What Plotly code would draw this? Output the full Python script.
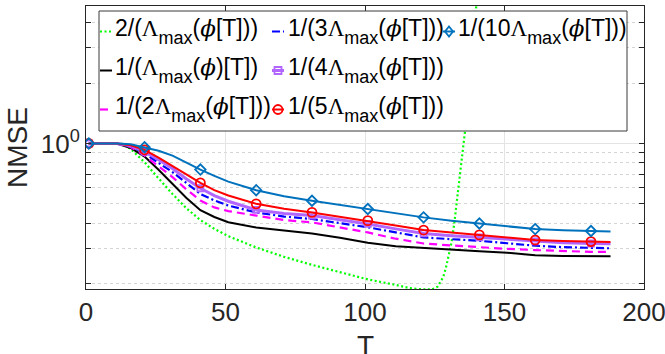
import math
import plotly.graph_objects as go

# Sample instants (T) shared by the six step-size curves
T = [1, 6, 11, 16, 21, 26, 31, 36, 41, 46, 51, 61, 71, 81, 91,
     101, 111, 121, 131, 141, 151, 161, 171, 181, 188]

nmse_lam1 = [1.0, 1.0, 1.0, 0.95, 0.86, 0.74, 0.63, 0.535, 0.465, 0.43, 0.405,
             0.381, 0.368, 0.356, 0.339, 0.32, 0.307, 0.302, 0.297, 0.29,
             0.285, 0.277, 0.275, 0.274, 0.274]
nmse_lam2 = [1.0, 1.0, 1.0, 0.96, 0.87, 0.77, 0.68, 0.59, 0.519, 0.48, 0.46,
             0.437, 0.415, 0.404, 0.38, 0.36, 0.335, 0.317, 0.31, 0.303,
             0.298, 0.294, 0.29, 0.288, 0.288]
nmse_lam3 = [1.0, 1.0, 1.0, 0.97, 0.895, 0.80, 0.72, 0.635, 0.56, 0.52, 0.49,
             0.453, 0.432, 0.42, 0.40, 0.382, 0.36, 0.34, 0.333, 0.327,
             0.318, 0.309, 0.304, 0.301, 0.30]
nmse_lam4 = [1.0, 1.0, 1.0, 0.975, 0.91, 0.83, 0.75, 0.665, 0.598, 0.55, 0.515,
             0.466, 0.448, 0.437, 0.418, 0.397, 0.375, 0.356, 0.347, 0.34,
             0.332, 0.325, 0.32, 0.317, 0.316]
nmse_lam5 = [1.0, 1.0, 1.0, 0.98, 0.93, 0.85, 0.77, 0.70, 0.636, 0.585, 0.55,
             0.50, 0.472, 0.453, 0.432, 0.412, 0.39, 0.37, 0.359, 0.35,
             0.34, 0.33, 0.326, 0.324, 0.323]
nmse_lam10 = [1.0, 1.0, 1.0, 0.99, 0.958, 0.92, 0.87, 0.80, 0.741, 0.69, 0.645,
              0.585, 0.545, 0.518, 0.493, 0.471, 0.449, 0.428, 0.412, 0.399,
              0.386, 0.374, 0.369, 0.366, 0.364]

# The 2/Lambda step size diverges after T ~ 125
T_div = [1, 6, 11, 13, 16, 21, 26, 31, 36, 41, 46, 51, 61, 71, 81, 91, 101,
         111, 116, 121, 124, 126, 128, 129, 130, 131, 132, 133, 134, 135,
         136, 137, 138, 139, 140, 141]
nmse_2lam = [1.0, 1.0, 1.0, 0.995, 0.94, 0.806, 0.67, 0.56, 0.475, 0.415,
             0.375, 0.345, 0.303, 0.272, 0.248, 0.228, 0.21, 0.197, 0.19,
             0.187, 0.187, 0.193, 0.215, 0.24, 0.275, 0.32, 0.40, 0.52, 0.68,
             0.9, 1.2, 1.65, 2.3, 3.6, 5.2, 7.0]

MARKER_T = [1, 21, 41, 61, 81, 101, 121, 141, 161, 181]
X_TICKS = [0, 50, 100, 150, 200]
Y_MINOR = [0.2, 0.3, 0.4, 0.5, 0.6, 0.7, 0.8, 0.9, 2, 3, 4]

LAM = "<span style=\"font-family:'Liberation Serif'\">Λ</span>"
PHI = "<span style=\"font-family:'DejaVu Serif'\"><i>ϕ</i></span>"
# larger, lower subscript: the outer span sets the em used for the sub shift
SUB = ("<span style=\"font-size:36px\"><sub>"
       "<span style=\"font-size:18px\">max</span></sub></span>")
LABELS = [
    f"2/({LAM}{SUB}({PHI}[T]))",
    f"1/({LAM}{SUB}({PHI})[T])",
    f"1/(2{LAM}{SUB}({PHI}[T]))",
    f"1/(3{LAM}{SUB}({PHI}[T]))",
    f"1/(4{LAM}{SUB}({PHI}[T]))",
    f"1/(5{LAM}{SUB}({PHI}[T]))",
    f"1/(10{LAM}{SUB}({PHI}[T]))",
]

# Plot-area geometry in pixels (used for the in-axes legend box)
W, H = 665, 354
L, R, TOP, BOT = 86, 644, 6, 289

def px(x):
    return (x - L) / (R - L)

def py(y):
    return (BOT - y) / (BOT - TOP)

series = [
    dict(x=T_div, y=nmse_2lam, color="#00FF00", dash="2px,2.5px", width=2.2, marker=None),
    dict(x=T, y=nmse_lam1, color="#000000", dash="solid", width=2, marker=None),
    dict(x=T, y=nmse_lam2, color="#FF00FF", dash="8px,5px", width=2.2, marker=None),
    dict(x=T, y=nmse_lam3, color="#0000FF", dash="8px,3px,2px,3px", width=2.2, marker=None),
    dict(x=T, y=nmse_lam4, color="#B266FF", dash="solid", width=3, marker="square-open"),
    dict(x=T, y=nmse_lam5, color="#FF0000", dash="solid", width=2, marker="circle-open"),
    dict(x=T, y=nmse_lam10, color="#0072BD", dash="solid", width=2, marker="diamond-open"),
]
marker_size = {"square-open": 6, "circle-open": 9, "diamond-open": 8}

fig = go.Figure()
for s, name in zip(series, LABELS):
    fig.add_trace(go.Scatter(
        x=s["x"], y=s["y"], mode="lines", name=name, showlegend=False,
        line=dict(color=s["color"], dash=s["dash"], width=s["width"]),
    ))
    if s["marker"]:
        mx = [t for t in s["x"] if t in MARKER_T]
        my = [v for t, v in zip(s["x"], s["y"]) if t in MARKER_T]
        fig.add_trace(go.Scatter(
            x=mx, y=my, mode="markers", showlegend=False,
            marker=dict(symbol=s["marker"], size=marker_size[s["marker"]],
                        color=s["color"], line=dict(color=s["color"], width=1.8)),
        ))

axis_col = "#262626"
fig.update_layout(
    width=W, height=H,
    margin=dict(l=L, r=W - R, t=TOP, b=H - BOT),
    paper_bgcolor="white", plot_bgcolor="white",
    font=dict(family="Liberation Sans", color=axis_col),
    xaxis=dict(
        range=[0, 200], tickmode="array", tickvals=X_TICKS, automargin=False,
        ticks="inside", ticklen=5, tickcolor=axis_col, tickwidth=1,
        showline=True, linecolor=axis_col, linewidth=1, mirror="allticks",
        showgrid=True, gridcolor="#e4e4e4", gridwidth=1, zeroline=False,
        tickfont=dict(size=26, color=axis_col), ticklabeloverflow="allow",
    ),
    yaxis=dict(
        type="log", range=[math.log10(0.188), math.log10(4.85)], automargin=False,
        tickmode="array", tickvals=[1], ticktext=["10<sup>0</sup>"],
        ticks="inside", ticklen=5, tickcolor=axis_col, tickwidth=1,
        showline=True, linecolor=axis_col, linewidth=1, mirror="allticks",
        showgrid=True, gridcolor="#e4e4e4", gridwidth=1, zeroline=False,
        tickfont=dict(size=26, color=axis_col),
        minor=dict(tickmode="array", tickvals=Y_MINOR, ticks="inside", ticklen=5,
                   tickcolor=axis_col, showgrid=True, griddash="dot",
                   gridcolor="#d4d4d4", gridwidth=1),
        title=dict(text="NMSE", font=dict(size=28, color=axis_col), standoff=4),
    ),
)

# In-axes legend: white box, three columns filled top-to-bottom
shapes = [dict(type="rect", xref="paper", yref="paper", layer="above",
               x0=px(99), x1=px(627), y0=py(131), y1=py(11),
               fillcolor="white", line=dict(color="#3a3a3a", width=1))]
annotations = []
slots = [(0, 0), (0, 1), (0, 2), (1, 0), (1, 1), (1, 2), (2, 0)]
col_sym = [106, 278, 449]
col_txt = [114, 287, 457]
row_y = [31.5, 70.5, 109.5]
for s, name, (c, r) in zip(series, LABELS, slots):
    cx, cy = col_sym[c], row_y[r]
    shapes.append(dict(type="line", xref="paper", yref="paper", layer="above",
                       x0=px(cx - 6), x1=px(cx + 6), y0=py(cy), y1=py(cy),
                       line=dict(color=s["color"], width=s["width"], dash=s["dash"])))
    m = s["marker"]
    if m == "circle-open":
        shapes.append(dict(type="circle", xref="paper", yref="paper", layer="above",
                           x0=px(cx - 4.5), x1=px(cx + 4.5), y0=py(cy + 4.5), y1=py(cy - 4.5),
                           line=dict(color=s["color"], width=1.8)))
    elif m == "square-open":
        shapes.append(dict(type="rect", xref="paper", yref="paper", layer="above",
                           x0=px(cx - 3.5), x1=px(cx + 3.5), y0=py(cy + 3.5), y1=py(cy - 3.5),
                           line=dict(color=s["color"], width=1.8)))
    elif m == "diamond-open":
        d = 5
        path = (f"M {px(cx)},{py(cy - d)} L {px(cx + d * 0.8)},{py(cy)} "
                f"L {px(cx)},{py(cy + d)} L {px(cx - d * 0.8)},{py(cy)} Z")
        shapes.append(dict(type="path", xref="paper", yref="paper", layer="above",
                           path=path, line=dict(color=s["color"], width=1.8)))
    annotations.append(dict(text=name, xref="paper", yref="paper",
                            x=px(col_txt[c]), y=py(cy), xanchor="left", yanchor="middle",
                            showarrow=False, font=dict(size=23, color="#000000"),
                            borderpad=0))

# x-axis title sits low, partly past the bottom edge of the page
annotations.append(dict(text="T", xref="paper", yref="paper", x=0.5, y=py(329),
                        xanchor="center", yanchor="top", showarrow=False,
                        font=dict(size=28, color=axis_col), borderpad=0))

fig.update_layout(shapes=shapes, annotations=annotations)
fig.write_html("out.html")
